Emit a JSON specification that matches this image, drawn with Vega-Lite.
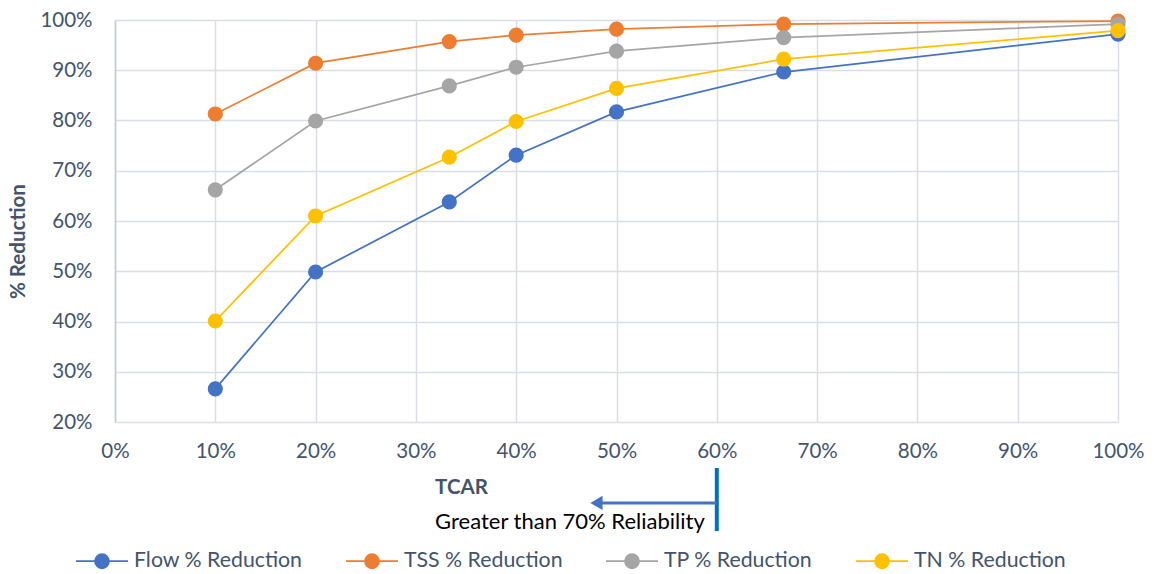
{
  "$schema": "https://vega.github.io/schema/vega-lite/v6.json",
  "width": 1003,
  "height": 402,
  "autosize": {"type": "none"},
  "padding": {"left": 115, "top": 20, "right": 36, "bottom": 152},
  "background": "white",
  "config": {
    "font": "Lato",
    "view": {"stroke": null},
    "axis": {"labelFont": "Lato", "titleFont": "Lato", "labelColor": "#44546A", "titleColor": "#44546A", "gridColor": "#D9DEE6", "gridWidth": 1.5, "ticks": false}
  },
  "datasets": {
    "series": [
      {"tcar": 0.1, "pct": 0.266, "series": "Flow % Reduction"},
      {"tcar": 0.2, "pct": 0.4985, "series": "Flow % Reduction"},
      {"tcar": 0.3333, "pct": 0.638, "series": "Flow % Reduction"},
      {"tcar": 0.4, "pct": 0.731, "series": "Flow % Reduction"},
      {"tcar": 0.5, "pct": 0.817, "series": "Flow % Reduction"},
      {"tcar": 0.6667, "pct": 0.8965, "series": "Flow % Reduction"},
      {"tcar": 1.0, "pct": 0.972, "series": "Flow % Reduction"},
      {"tcar": 0.1, "pct": 0.813, "series": "TSS % Reduction"},
      {"tcar": 0.2, "pct": 0.914, "series": "TSS % Reduction"},
      {"tcar": 0.3333, "pct": 0.957, "series": "TSS % Reduction"},
      {"tcar": 0.4, "pct": 0.970, "series": "TSS % Reduction"},
      {"tcar": 0.5, "pct": 0.982, "series": "TSS % Reduction"},
      {"tcar": 0.6667, "pct": 0.992, "series": "TSS % Reduction"},
      {"tcar": 1.0, "pct": 0.998, "series": "TSS % Reduction"},
      {"tcar": 0.1, "pct": 0.662, "series": "TP % Reduction"},
      {"tcar": 0.2, "pct": 0.799, "series": "TP % Reduction"},
      {"tcar": 0.3333, "pct": 0.869, "series": "TP % Reduction"},
      {"tcar": 0.4, "pct": 0.906, "series": "TP % Reduction"},
      {"tcar": 0.5, "pct": 0.938, "series": "TP % Reduction"},
      {"tcar": 0.6667, "pct": 0.965, "series": "TP % Reduction"},
      {"tcar": 1.0, "pct": 0.992, "series": "TP % Reduction"},
      {"tcar": 0.1, "pct": 0.401, "series": "TN % Reduction"},
      {"tcar": 0.2, "pct": 0.610, "series": "TN % Reduction"},
      {"tcar": 0.3333, "pct": 0.727, "series": "TN % Reduction"},
      {"tcar": 0.4, "pct": 0.798, "series": "TN % Reduction"},
      {"tcar": 0.5, "pct": 0.864, "series": "TN % Reduction"},
      {"tcar": 0.6667, "pct": 0.922, "series": "TN % Reduction"},
      {"tcar": 1.0, "pct": 0.979, "series": "TN % Reduction"}
    ],
    "vline": [{"x": 0.6, "y": 0.1085}, {"x": 0.6, "y": -0.017}],
    "arrow": [{"x": 0.6, "y": 0.039}, {"x": 0.485, "y": 0.039}],
    "arrowhead": [{"x": 0.48, "y": 0.039}],
    "note": [{"x": 0.588, "y": 0.001, "label": "Greater than 70% Reliability"}]
  },
  "layer": [
    {
      "data": {"name": "series"},
      "mark": {"type": "line", "strokeWidth": 1.75, "clip": false, "point": {"filled": true, "size": 230, "opacity": 1}},
      "encoding": {
        "x": {
          "field": "tcar", "type": "quantitative",
          "scale": {"domain": [0, 1], "nice": false},
          "axis": {"format": "%", "values": [0, 0.1, 0.2, 0.3, 0.4, 0.5, 0.6, 0.7, 0.8, 0.9, 1.0], "labelFontSize": 20.5, "labelPadding": 19, "labelFlush": false, "domain": false, "title": "TCAR", "titleFontSize": 20.5, "titleFontWeight": "bold", "titleX": 346, "titleY": 65, "titleAlign": "center", "titleBaseline": "middle"}
        },
        "y": {
          "field": "pct", "type": "quantitative",
          "scale": {"domain": [0.2, 1], "nice": false, "zero": false},
          "axis": {"format": "%", "values": [0.2, 0.3, 0.4, 0.5, 0.6, 0.7, 0.8, 0.9, 1.0], "labelFontSize": 20.5, "labelPadding": 23, "domain": true, "domainColor": "#C4CAD4", "domainWidth": 1.5, "title": "% Reduction", "titleFontSize": 20.5, "titleFontWeight": "bold", "titleX": -97, "titleY": 221, "titleAlign": "center", "titleBaseline": "middle", "titleAngle": -90}
        },
        "color": {
          "field": "series", "type": "nominal",
          "scale": {"domain": ["Flow % Reduction", "TSS % Reduction", "TP % Reduction", "TN % Reduction"], "range": ["#4472C4", "#ED7D31", "#A5A5A5", "#FFC000"]},
          "legend": {
            "title": null, "orient": "none", "legendX": -40, "legendY": 514, "direction": "horizontal",
            "columns": 4, "columnPadding": 39,
            "labelFontSize": 21.3, "labelColor": "#44546A", "labelFont": "Lato", "labelOffset": 5, "labelLimit": 400,
            "symbolType": "M-1,0H1M-0.27,0A0.27,0.27 0 1 1 0.27,0A0.27,0.27 0 1 1 -0.27,0Z",
            "symbolSize": 2704, "symbolStrokeWidth": 1.75,
            "encode": {"symbols": {"update": {
              "shape": {"value": "M-1,0H1M-0.27,0A0.27,0.27 0 1 1 0.27,0A0.27,0.27 0 1 1 -0.27,0Z"},
              "size": {"value": 2704},
              "strokeWidth": {"value": 1.75},
              "fill": {"scale": "color", "field": "value"}, "stroke": {"scale": "color", "field": "value"}, "opacity": {"value": 1}}}}
          }
        }
      }
    },
    {
      "data": {"name": "vline"},
      "mark": {"type": "line", "color": "#0070C0", "strokeWidth": 4, "clip": false},
      "encoding": {"x": {"field": "x", "type": "quantitative"}, "y": {"field": "y", "type": "quantitative"}}
    },
    {
      "data": {"name": "arrow"},
      "mark": {"type": "line", "color": "#4472C4", "strokeWidth": 3, "clip": false},
      "encoding": {"x": {"field": "x", "type": "quantitative"}, "y": {"field": "y", "type": "quantitative"}}
    },
    {
      "data": {"name": "arrowhead"},
      "mark": {"type": "point", "shape": "triangle-left", "filled": true, "color": "#4472C4", "size": 200, "opacity": 1, "clip": false},
      "encoding": {"x": {"field": "x", "type": "quantitative"}, "y": {"field": "y", "type": "quantitative"}}
    },
    {
      "data": {"name": "note"},
      "mark": {"type": "text", "align": "right", "baseline": "middle", "fontSize": 22, "font": "Lato", "color": "#000000", "clip": false},
      "encoding": {"x": {"field": "x", "type": "quantitative"}, "y": {"field": "y", "type": "quantitative"}, "text": {"field": "label"}}
    }
  ]
}
